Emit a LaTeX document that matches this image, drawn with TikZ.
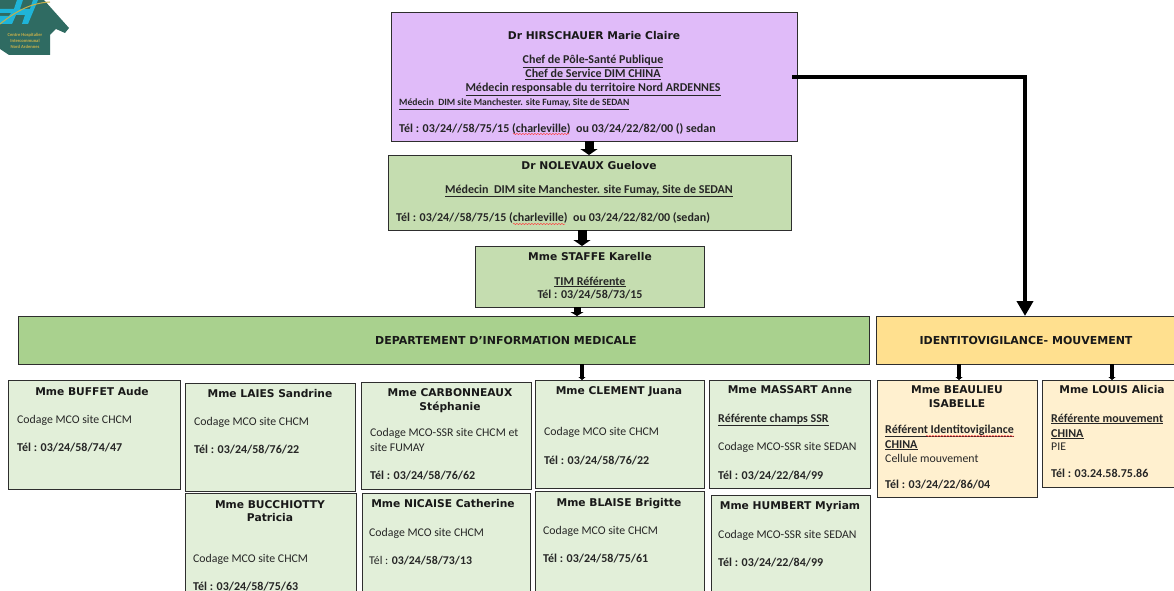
\documentclass[tikz,border=0pt]{standalone}
\usepackage{fontspec}
\setmainfont{Carlito}
\newfontfamily\headfont{DejaVu Sans}
\usetikzlibrary{arrows.meta,decorations.pathmorphing}
\definecolor{lilac}{HTML}{E0BBF9}
\definecolor{midgreen}{HTML}{C5DDB0}
\definecolor{deepgreen}{HTML}{A9D18E}
\definecolor{palegreen}{HTML}{E2EFD9}
\definecolor{gold}{HTML}{FFE08F}
\definecolor{paleorange}{HTML}{FFF0CF}
\definecolor{edge}{HTML}{2E2E2E}
\definecolor{teal}{HTML}{2F6B62}
\definecolor{cyanlogo}{HTML}{1FB4D8}
\definecolor{goldlogo}{HTML}{C8B04A}
\tikzset{
  x=1pt,y=-1pt,
  box/.style={draw=edge,line width=1pt,inner sep=0pt,outer sep=0pt},
  head/.style={font=\headfont\fontsize{10.7}{12}\selectfont\bfseries,inner sep=0pt,anchor=center,text=black!90,text height=8pt,text depth=2pt,yshift=-1pt},
  banner/.style={head,font=\headfont\fontsize{11}{12}\selectfont\bfseries},
  lineL/.style={font=\fontsize{11.8}{13}\selectfont,inner sep=0pt,anchor=west,text=black!85,text height=8pt,text depth=3pt,yshift=-1.5pt},
  boldL/.style={lineL,font=\fontsize{12}{13}\selectfont\bfseries},
  boldC/.style={boldL,anchor=center},
  tiny/.style={boldL,font=\fontsize{9.6}{10}\selectfont\bfseries},
  arrowlink/.style={line width=9pt,-{Triangle[width=17pt,length=6pt]},black},
  shortlink/.style={line width=4pt,-{Triangle[width=7pt,length=3pt]},black},
  spell/.style={draw=red!75,line width=.5pt,decorate,decoration={snake,amplitude=.6pt,segment length=3pt}},
  logotext/.style={font=\fontsize{4.6}{5}\selectfont\bfseries,text=goldlogo,inner sep=0pt}
}
\newcommand{\bx}[6]{%
  \pgfmathsetmacro{\bxw}{#4-#2}\pgfmathsetmacro{\bxh}{#5-#3}%
  \pgfmathsetmacro{\bxx}{(#2+#4)/2}\pgfmathsetmacro{\bxy}{(#3+#5)/2}%
  \node[box,fill=#6,minimum width=\bxw pt,minimum height=\bxh pt] (#1) at (\bxx,\bxy) {};}
\newcommand{\T}[5]{\node[#1] (#2) at (#3,#4) {#5};}
\begin{document}
\begin{tikzpicture}
\clip (0,0) rectangle (1174,591);
\fill[white] (0,0) rectangle (1174,591);
% logo
\fill[teal] (0,0) -- (44,0) -- (69,28) -- (65,33) -- (56,29) -- (50,35) -- (50,55) -- (9,55) -- (0,49) -- cycle;
\fill[cyanlogo] (0,9) -- (14,9) -- (17,0) -- (23,0) -- (20,9) -- (30,9) -- (33,0) -- (38,0) -- (28,24) -- (22,24) -- (25,15) -- (16,15) -- (12,24) -- (0,24) -- (0,16) -- (9,16) -- (11,13) -- (0,13) -- cycle;
\draw[goldlogo,line width=1pt] (0,24) .. controls (15,12) and (30,3) .. (50,2);
\T{logotext}{logoa}{25}{35}{Centre Hospitalier}
\T{logotext}{logob}{25}{41}{Intercommunal}
\T{logotext}{logoc}{25}{47}{Nord Ardennes}
% boxes
\bx{hir}{391}{13}{797}{141}{lilac}
\bx{nol}{388}{155}{791}{230}{midgreen}
\bx{sta}{475}{246}{704}{307}{midgreen}
\bx{dim}{18}{316}{869}{364}{deepgreen}
\bx{ide}{876}{316}{1180}{364}{gold}
\bx{buf}{8}{380}{180}{489}{palegreen}
\bx{lai}{185}{383}{355}{491}{palegreen}
\bx{car}{361}{382}{531}{489}{palegreen}
\bx{cle}{535}{380}{704}{488}{palegreen}
\bx{mas}{709}{380}{870}{488}{palegreen}
\bx{buc}{185}{493}{356}{600}{palegreen}
\bx{nic}{362}{493}{530}{600}{palegreen}
\bx{bla}{535}{491}{704}{600}{palegreen}
\bx{hum}{711}{495}{870}{600}{palegreen}
\bx{bea}{877}{380}{1037}{497}{paleorange}
\bx{lou}{1042}{380}{1180}{487}{paleorange}
% text: Hirschauer
\T{head}{hirA}{594}{36}{Dr HIRSCHAUER Marie Claire}
\T{boldC}{hirB}{593}{60}{\underline{Chef de Pôle-Santé Publique}}
\T{boldC}{hirC}{593}{74}{\underline{Chef de Service DIM CHINA}}
\T{boldC}{hirD}{593}{88}{\underline{Médecin responsable du territoire Nord ARDENNES}}
\T{tiny}{hirE}{399}{102}{\underline{Médecin\ \ DIM site Manchester. site Fumay, Site de SEDAN}}
\T{boldL}{hirF}{399}{128}{Tél : 03/24//58/75/15 (charleville)\ \ ou 03/24/22/82/00 () sedan}
\draw[spell] (513,134) -- (569,134);
% Nolevaux
\T{head}{nolA}{589}{165}{Dr NOLEVAUX Guelove}
\T{boldC}{nolB}{589}{189}{\underline{Médecin\ \ DIM site Manchester. site Fumay, Site de SEDAN}}
\T{boldL}{nolC}{396}{217}{Tél : 03/24//58/75/15 (charleville)\ \ ou 03/24/22/82/00 (sedan)}
\draw[spell] (513,224) -- (565,224);
% Staffe
\T{head}{staA}{590}{256}{Mme STAFFE Karelle}
\T{boldC}{staB}{590}{281}{\underline{TIM Référente}}
\T{boldC}{staC}{590}{294}{Tél : 03/24/58/73/15}
% banners
\T{banner}{dimA}{506}{340}{DEPARTEMENT D’INFORMATION MEDICALE}
\T{banner}{ideA}{1026}{340}{IDENTITOVIGILANCE- MOUVEMENT}
% Buffet
\T{head}{bufA}{92}{391}{Mme BUFFET Aude}
\T{lineL}{bufB}{17}{419}{Codage MCO site CHCM}
\T{boldL}{bufC}{17}{447}{Tél : 03/24/58/74/47}
% Laies
\T{head}{laiA}{270}{393}{Mme LAIES Sandrine}
\T{lineL}{laiB}{194}{421}{Codage MCO site CHCM}
\T{boldL}{laiC}{194}{449}{Tél : 03/24/58/76/22}
% Carbonneaux
\T{head}{carA}{450}{392}{Mme CARBONNEAUX}
\T{head}{carB}{450}{406}{Stéphanie}
\T{lineL}{carC}{370}{432}{Codage MCO-SSR site CHCM et}
\T{lineL}{carD}{370}{447}{site FUMAY}
\T{boldL}{carE}{370}{475}{Tél : 03/24/58/76/62}
% Bucchiotty
\T{head}{bucA}{270}{504}{Mme BUCCHIOTTY}
\T{head}{bucB}{270}{517}{Patricia}
\T{lineL}{bucC}{193}{558}{Codage MCO site CHCM}
\T{boldL}{bucD}{193}{586}{Tél : 03/24/58/75/63}
% Nicaise
\T{head}{nicA}{443}{503}{Mme NICAISE Catherine}
\T{lineL}{nicB}{369}{532}{Codage MCO site CHCM}
\T{lineL}{nicC}{369}{560}{Tél : \textbf{03/24/58/73/13}}
% Clement
\T{head}{cleA}{619}{390}{Mme CLEMENT Juana}
\T{lineL}{cleB}{544}{431}{Codage MCO site CHCM}
\T{boldL}{cleC}{544}{460}{Tél : 03/24/58/76/22}
% Blaise
\T{head}{blaA}{619}{502}{Mme BLAISE Brigitte}
\T{lineL}{blaB}{543}{530}{Codage MCO site CHCM}
\T{boldL}{blaC}{543}{558}{Tél : 03/24/58/75/61}
% Massart
\T{head}{masA}{790}{389}{Mme MASSART Anne}
\T{boldL}{masB}{718}{418}{\underline{Référente champs SSR}}
\T{lineL}{masC}{718}{446}{Codage MCO-SSR site SEDAN}
\T{boldL}{masD}{718}{475}{Tél : 03/24/22/84/99}
% Humbert
\T{head}{humA}{790}{505}{Mme HUMBERT Myriam}
\T{lineL}{humB}{718}{534}{Codage MCO-SSR site SEDAN}
\T{boldL}{humC}{718}{562}{Tél : 03/24/22/84/99}
% Beaulieu
\T{head}{beaA}{957}{389}{Mme BEAULIEU}
\T{head}{beaB}{957}{403}{ISABELLE}
\T{boldL}{beaC}{885}{429}{\underline{Référent Identitovigilance}}
\T{boldL}{beaD}{885}{444}{\underline{CHINA}}
\T{lineL}{beaE}{885}{458}{Cellule mouvement}
\T{boldL}{beaF}{885}{484}{Tél : 03/24/22/86/04}
\draw[spell] (926,436) -- (1014,436);
% Louis
\T{head}{louA}{1112}{389}{Mme LOUIS Alicia}
\T{boldL}{louB}{1051}{418}{\underline{Référente mouvement}}
\T{boldL}{louC}{1051}{433}{\underline{CHINA}}
\T{lineL}{louD}{1051}{446}{PIE}
\T{boldL}{louE}{1051}{473}{Tél : 03.24.58.75.86}
% connector guides
\coordinate (g1) at (589,0);
\coordinate (g2) at (582,0);
\coordinate (g3) at (577,0);
\coordinate (g4) at (582,0);
\coordinate (g5) at (959,0);
\coordinate (g6) at (1112,0);
\coordinate (g7) at (0,77);
\coordinate (g8) at (1025,0);
\draw[arrowlink] (hir.south -| g1) -- (nol.north -| g1);
\draw[arrowlink] (nol.south -| g2) -- (sta.north -| g2);
\draw[line width=7pt,black,-{Triangle[width=13pt,length=4pt]}] (sta.south -| g3) -- (dim.north -| g3);
\draw[shortlink] (dim.south -| g4) -- (cle.north -| g4);
\draw[shortlink] (ide.south -| g5) -- (bea.north -| g5);
\draw[shortlink] (ide.south -| g6) -- (lou.north -| g6);
\draw[line width=4.5pt,black,-{Triangle[width=16pt,length=15pt]}] ([xshift=-5pt]hir.east |- g7) -- (g7 -| g8) -- (ide.north -| g8);
\end{tikzpicture}
\end{document}
